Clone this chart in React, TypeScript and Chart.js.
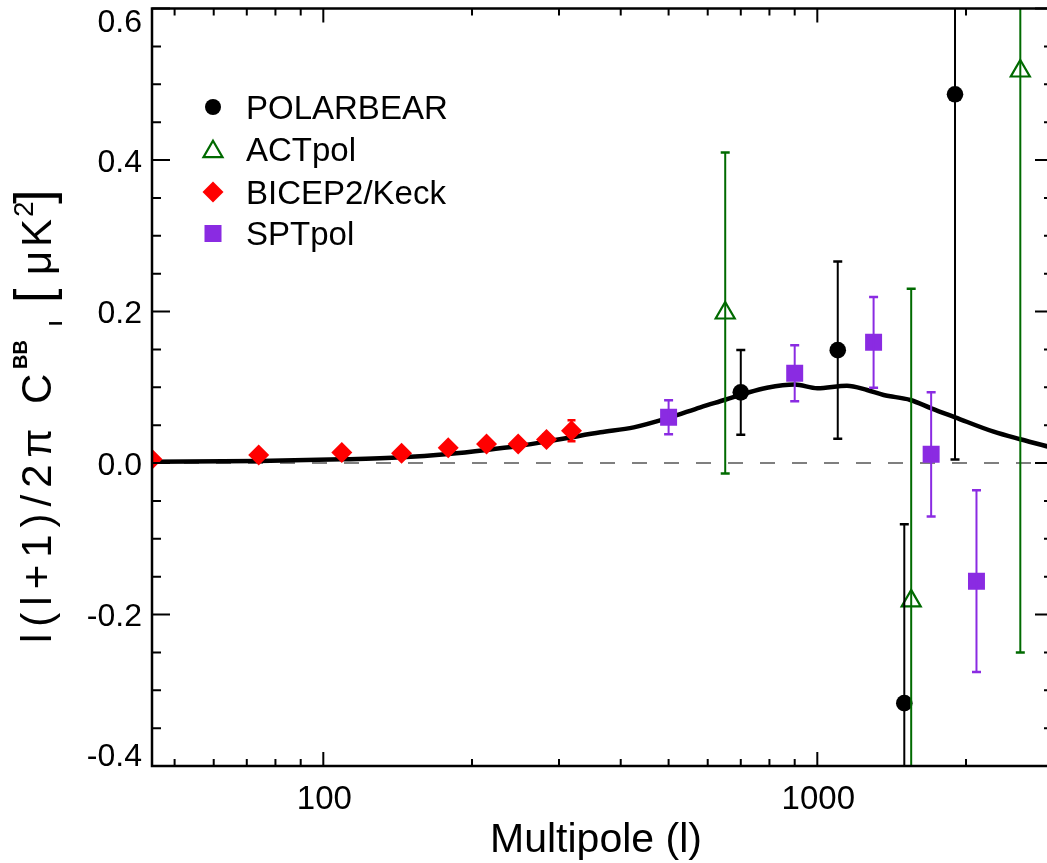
import React, { useEffect, useRef } from 'react';
import { Chart, registerables } from 'chart.js';

Chart.register(...registerables);

// ---- axis ranges & ticks ----
const X_MIN = 45;
const X_MAX = 3000;
const Y_MIN = -0.4;
const Y_MAX = 0.6;
const xMajorTicks = [100, 1000];
const xMajorLabels = ['100', '1000'];
const xMinorTicks = [50, 60, 70, 80, 90, 200, 300, 400, 500, 600, 700, 800, 900, 2000];
const yMajorTicks = [-0.4, -0.2, 0.0, 0.2, 0.4, 0.6];
const yMajorLabels = ['-0.4', '-0.2', '0.0', '0.2', '0.4', '0.6'];
const yMinorTicks = [-0.35, -0.3, -0.25, -0.15, -0.1, -0.05, 0.05, 0.1, 0.15, 0.25, 0.3, 0.35, 0.45, 0.5, 0.55];

// ---- theory lensing BB curve ----
const theoryL = [45, 74, 109, 144, 179, 214, 248, 283, 318, 364, 425, 500, 580, 651, 720, 791, 900, 1000, 1148, 1261, 1362, 1543, 1701, 1901, 2275, 2576, 3000];
const theoryBB = [0.0017, 0.0026, 0.0048, 0.0075, 0.0119, 0.0172, 0.0224, 0.0282, 0.034, 0.0405, 0.047, 0.0595, 0.0735, 0.0835, 0.0925, 0.0993, 0.1036, 0.0986, 0.102, 0.0964, 0.0898, 0.0832, 0.0722, 0.0603, 0.0413, 0.0313, 0.020];

// ---- data sets ----
const polarbearL = [700, 1100, 1500, 1900];
const polarbearBB = [0.0933, 0.149, -0.317, 0.4867];
const polarbearErr = [0.056, 0.117, 0.236, 0.482];

const actpolL = [651, 1549, 2576];
const actpolBB = [0.198, -0.182, 0.5175];
const actpolErr = [0.212, 0.412, 0.7675];

const bicepL = [45, 74, 109, 144, 179, 214, 248, 283, 318];
const bicepBB = [0.005, 0.0106, 0.014, 0.0128, 0.020, 0.025, 0.025, 0.031, 0.0426];
const bicepErr = [0.003, 0.003, 0.003, 0.004, 0.004, 0.005, 0.006, 0.007, 0.014];

const sptpolL = [500, 900, 1300, 1700, 2100];
const sptpolBB = [0.0603, 0.1184, 0.1593, 0.0115, -0.156];
const sptpolErr = [0.0225, 0.037, 0.06, 0.082, 0.12];

const legendLabels = ['POLARBEAR', 'ACTpol', 'BICEP2/Keck', 'SPTpol'];
const xTitle = 'Multipole (l)';

const BLACK = '#000000';
const GREEN = '#006a00';
const RED = '#ff0000';
const PURPLE = '#8a2be2';
const FONT = '"Liberation Sans", Arial, Helvetica, sans-serif';

const pts = (xs: number[], ys: number[]) => xs.map((x, i) => ({ x, y: ys[i] }));

const framePlugin = {
  id: 'framePlugin',
  afterDatasetsDraw(chart: any) {
    const { ctx, chartArea: a, scales } = chart;
    const x = scales.x, y = scales.y;
    ctx.save();
    ctx.beginPath();
    ctx.rect(a.left, a.top, a.right - a.left, a.bottom - a.top);
    ctx.clip();
    chart.data.datasets.forEach((ds: any) => {
      if (!ds.errors) return;
      ctx.strokeStyle = ds.errColor;
      const cap = ds.capHalf;
      ds.data.forEach((p: any, i: number) => {
        const e = ds.errors[i];
        const px = x.getPixelForValue(p.x);
        const y1 = y.getPixelForValue(p.y + e);
        const y2 = y.getPixelForValue(p.y - e);
        ctx.lineWidth = 2;
        ctx.beginPath();
        ctx.moveTo(px, y1);
        ctx.lineTo(px, y2);
        ctx.stroke();
        ctx.lineWidth = 2.5;
        ctx.beginPath();
        ctx.moveTo(px - cap, y1);
        ctx.lineTo(px + cap, y1);
        ctx.moveTo(px - cap, y2);
        ctx.lineTo(px + cap, y2);
        ctx.stroke();
      });
    });
    ctx.restore();
  },
  afterDraw(chart: any) {
    const { ctx, chartArea: a, scales } = chart;
    const x = scales.x, y = scales.y;
    ctx.save();
    // frame
    ctx.strokeStyle = BLACK;
    ctx.lineWidth = 2.5;
    ctx.strokeRect(a.left, a.top, a.right - a.left, a.bottom - a.top);
    // ticks
    ctx.lineWidth = 2;
    ctx.beginPath();
    const xt = (v: number, len: number) => {
      const px = x.getPixelForValue(v);
      ctx.moveTo(px, a.bottom);
      ctx.lineTo(px, a.bottom - len);
      ctx.moveTo(px, a.top);
      ctx.lineTo(px, a.top + len);
    };
    xMajorTicks.forEach((v) => xt(v, 14));
    xMinorTicks.forEach((v) => xt(v, 7));
    const yt = (v: number, len: number) => {
      const py = y.getPixelForValue(v);
      ctx.moveTo(a.left, py);
      ctx.lineTo(a.left + len, py);
      ctx.moveTo(a.right, py);
      ctx.lineTo(a.right - len, py);
    };
    yMajorTicks.forEach((v) => yt(v, 18));
    yMinorTicks.forEach((v) => yt(v, 9));
    ctx.stroke();

    // tick labels
    ctx.fillStyle = BLACK;
    ctx.font = `33px ${FONT}`;
    ctx.textAlign = 'center';
    ctx.textBaseline = 'alphabetic';
    xMajorTicks.forEach((v, i) => {
      ctx.fillText(xMajorLabels[i], x.getPixelForValue(v) + 1, 809);
    });
    ctx.font = `32px ${FONT}`;
    ctx.textAlign = 'right';
    const capH = 23;
    yMajorTicks.forEach((v, i) => {
      let c = y.getPixelForValue(v);
      c = Math.max(c, a.top + capH / 2);
      c = Math.min(c, a.bottom - capH / 2);
      ctx.fillText(yMajorLabels[i], 142, c + capH / 2);
    });

    // x title
    ctx.font = `41px ${FONT}`;
    ctx.textAlign = 'center';
    ctx.fillText(xTitle, 596, 852);

    // y title (rotated)
    ctx.save();
    ctx.translate(51, 643);
    ctx.rotate(-Math.PI / 2);
    ctx.textAlign = 'left';
    const run = (t: string, font: string, u: number, dy: number, sp: string) => {
      ctx.font = font;
      (ctx as any).letterSpacing = sp;
      ctx.fillText(t, u, dy);
    };
    run('l(l+1)/2\u03c0', `42px ${FONT}`, 0, 0, '7px');
    run('C', `42px ${FONT}`, 239, 0, '0px');
    run('BB', `bold 20px ${FONT}`, 274, -24, '0px');
    run('l', `bold 19px ${FONT}`, 317, 11, '0px');
    run('[', `52px ${FONT}`, 340, 0, '0px');
    run('\u03bc', `42px ${FONT}`, 368, 0, '0px');
    run('K', `42px ${FONT}`, 396, 0, '0px');
    run('2', `28px ${FONT}`, 426, -18, '0px');
    run(']', `52px ${FONT}`, 439, 0, '0px');
    (ctx as any).letterSpacing = '0px';
    ctx.restore();

    // legend
    const lx = 213;
    const rows = [107, 149.5, 192, 233.5];
    ctx.font = `33px ${FONT}`;
    ctx.textAlign = 'left';
    legendLabels.forEach((lab, i) => {
      const cy = rows[i];
      ctx.fillStyle = BLACK;
      ctx.fillText(lab, 246, cy + 11.8);
      if (i === 0) {
        ctx.beginPath();
        ctx.arc(lx, cy, 8, 0, Math.PI * 2);
        ctx.fillStyle = BLACK;
        ctx.fill();
      } else if (i === 1) {
        const r = 11;
        ctx.beginPath();
        ctx.moveTo(lx, cy - r * 0.8);
        ctx.lineTo(lx + r * 0.866, cy + r * 0.7);
        ctx.lineTo(lx - r * 0.866, cy + r * 0.7);
        ctx.closePath();
        ctx.strokeStyle = GREEN;
        ctx.lineWidth = 2.2;
        ctx.stroke();
      } else if (i === 2) {
        const r = 10.5;
        ctx.beginPath();
        ctx.moveTo(lx, cy - r);
        ctx.lineTo(lx + r, cy);
        ctx.lineTo(lx, cy + r);
        ctx.lineTo(lx - r, cy);
        ctx.closePath();
        ctx.fillStyle = RED;
        ctx.fill();
      } else {
        ctx.fillStyle = PURPLE;
        ctx.fillRect(lx - 8.5, cy - 8.5, 17, 17);
      }
    });
    ctx.restore();
  },
};

export default function App() {
  const ref = useRef<HTMLCanvasElement>(null);
  useEffect(() => {
    document.body.style.margin = '0';
    const canvas = ref.current!;
    const chart = new Chart(canvas, {
      type: 'scatter',
      data: {
        datasets: [
          {
            label: 'zero',
            data: [{ x: X_MIN, y: 0 }, { x: X_MAX, y: 0 }],
            showLine: true,
            borderColor: '#555555',
            borderWidth: 1.3,
            borderDash: [15, 17],
            pointRadius: 0,
            order: 10,
            clip: 0,
          },
          {
            label: 'theory',
            data: pts(theoryL, theoryBB),
            showLine: true,
            borderColor: BLACK,
            borderWidth: 4.5,
            pointRadius: 0,
            cubicInterpolationMode: 'monotone',
            order: 9,
            clip: 0,
          },
          {
            label: legendLabels[2],
            data: pts(bicepL, bicepBB),
            pointStyle: 'rectRot',
            pointRadius: 10.5,
            backgroundColor: RED,
            borderColor: RED,
            borderWidth: 0,
            order: 4,
            clip: 0,
            errors: bicepErr,
            errColor: RED,
            capHalf: 4,
          } as any,
          {
            label: legendLabels[3],
            data: pts(sptpolL, sptpolBB),
            pointStyle: 'rect',
            pointRadius: 12,
            backgroundColor: PURPLE,
            borderColor: PURPLE,
            borderWidth: 0,
            order: 3,
            clip: 0,
            errors: sptpolErr,
            errColor: PURPLE,
            capHalf: 4.5,
          } as any,
          {
            label: legendLabels[1],
            data: pts(actpolL, actpolBB),
            pointStyle: 'triangle',
            pointRadius: 11,
            backgroundColor: 'rgba(0,0,0,0)',
            borderColor: GREEN,
            borderWidth: 2.2,
            order: 2,
            clip: 0,
            errors: actpolErr,
            errColor: GREEN,
            capHalf: 4.5,
          } as any,
          {
            label: legendLabels[0],
            data: pts(polarbearL, polarbearBB),
            pointStyle: 'circle',
            pointRadius: 8.3,
            backgroundColor: BLACK,
            borderColor: BLACK,
            borderWidth: 0,
            order: 1,
            clip: 0,
            errors: polarbearErr,
            errColor: BLACK,
            capHalf: 4.5,
          } as any,
        ],
      },
      options: {
        responsive: false,
        animation: false,
        devicePixelRatio: 1,
        layout: { autoPadding: false, padding: { top: 8.5, right: 2, left: 0, bottom: 0 } },
        plugins: {
          legend: { display: false },
          tooltip: { enabled: false },
        },
        scales: {
          x: {
            type: 'logarithmic',
            min: X_MIN,
            max: X_MAX,
            grid: { display: false },
            border: { display: false },
            ticks: { display: false },
            afterFit: (s: any) => {
              s.height = 97;
            },
          },
          y: {
            type: 'linear',
            min: Y_MIN,
            max: Y_MAX,
            grid: { display: false },
            border: { display: false },
            ticks: { display: false },
            afterFit: (s: any) => {
              s.width = 152;
            },
          },
        },
      },
      plugins: [framePlugin],
    } as any);
    return () => chart.destroy();
  }, []);
  return (
    <div style={{ position: 'relative', width: 1047, height: 863, overflow: 'hidden', background: '#fff' }}>
      <canvas ref={ref} width={1055} height={863} style={{ display: 'block', width: 1055, height: 863 }} />
    </div>
  );
}
